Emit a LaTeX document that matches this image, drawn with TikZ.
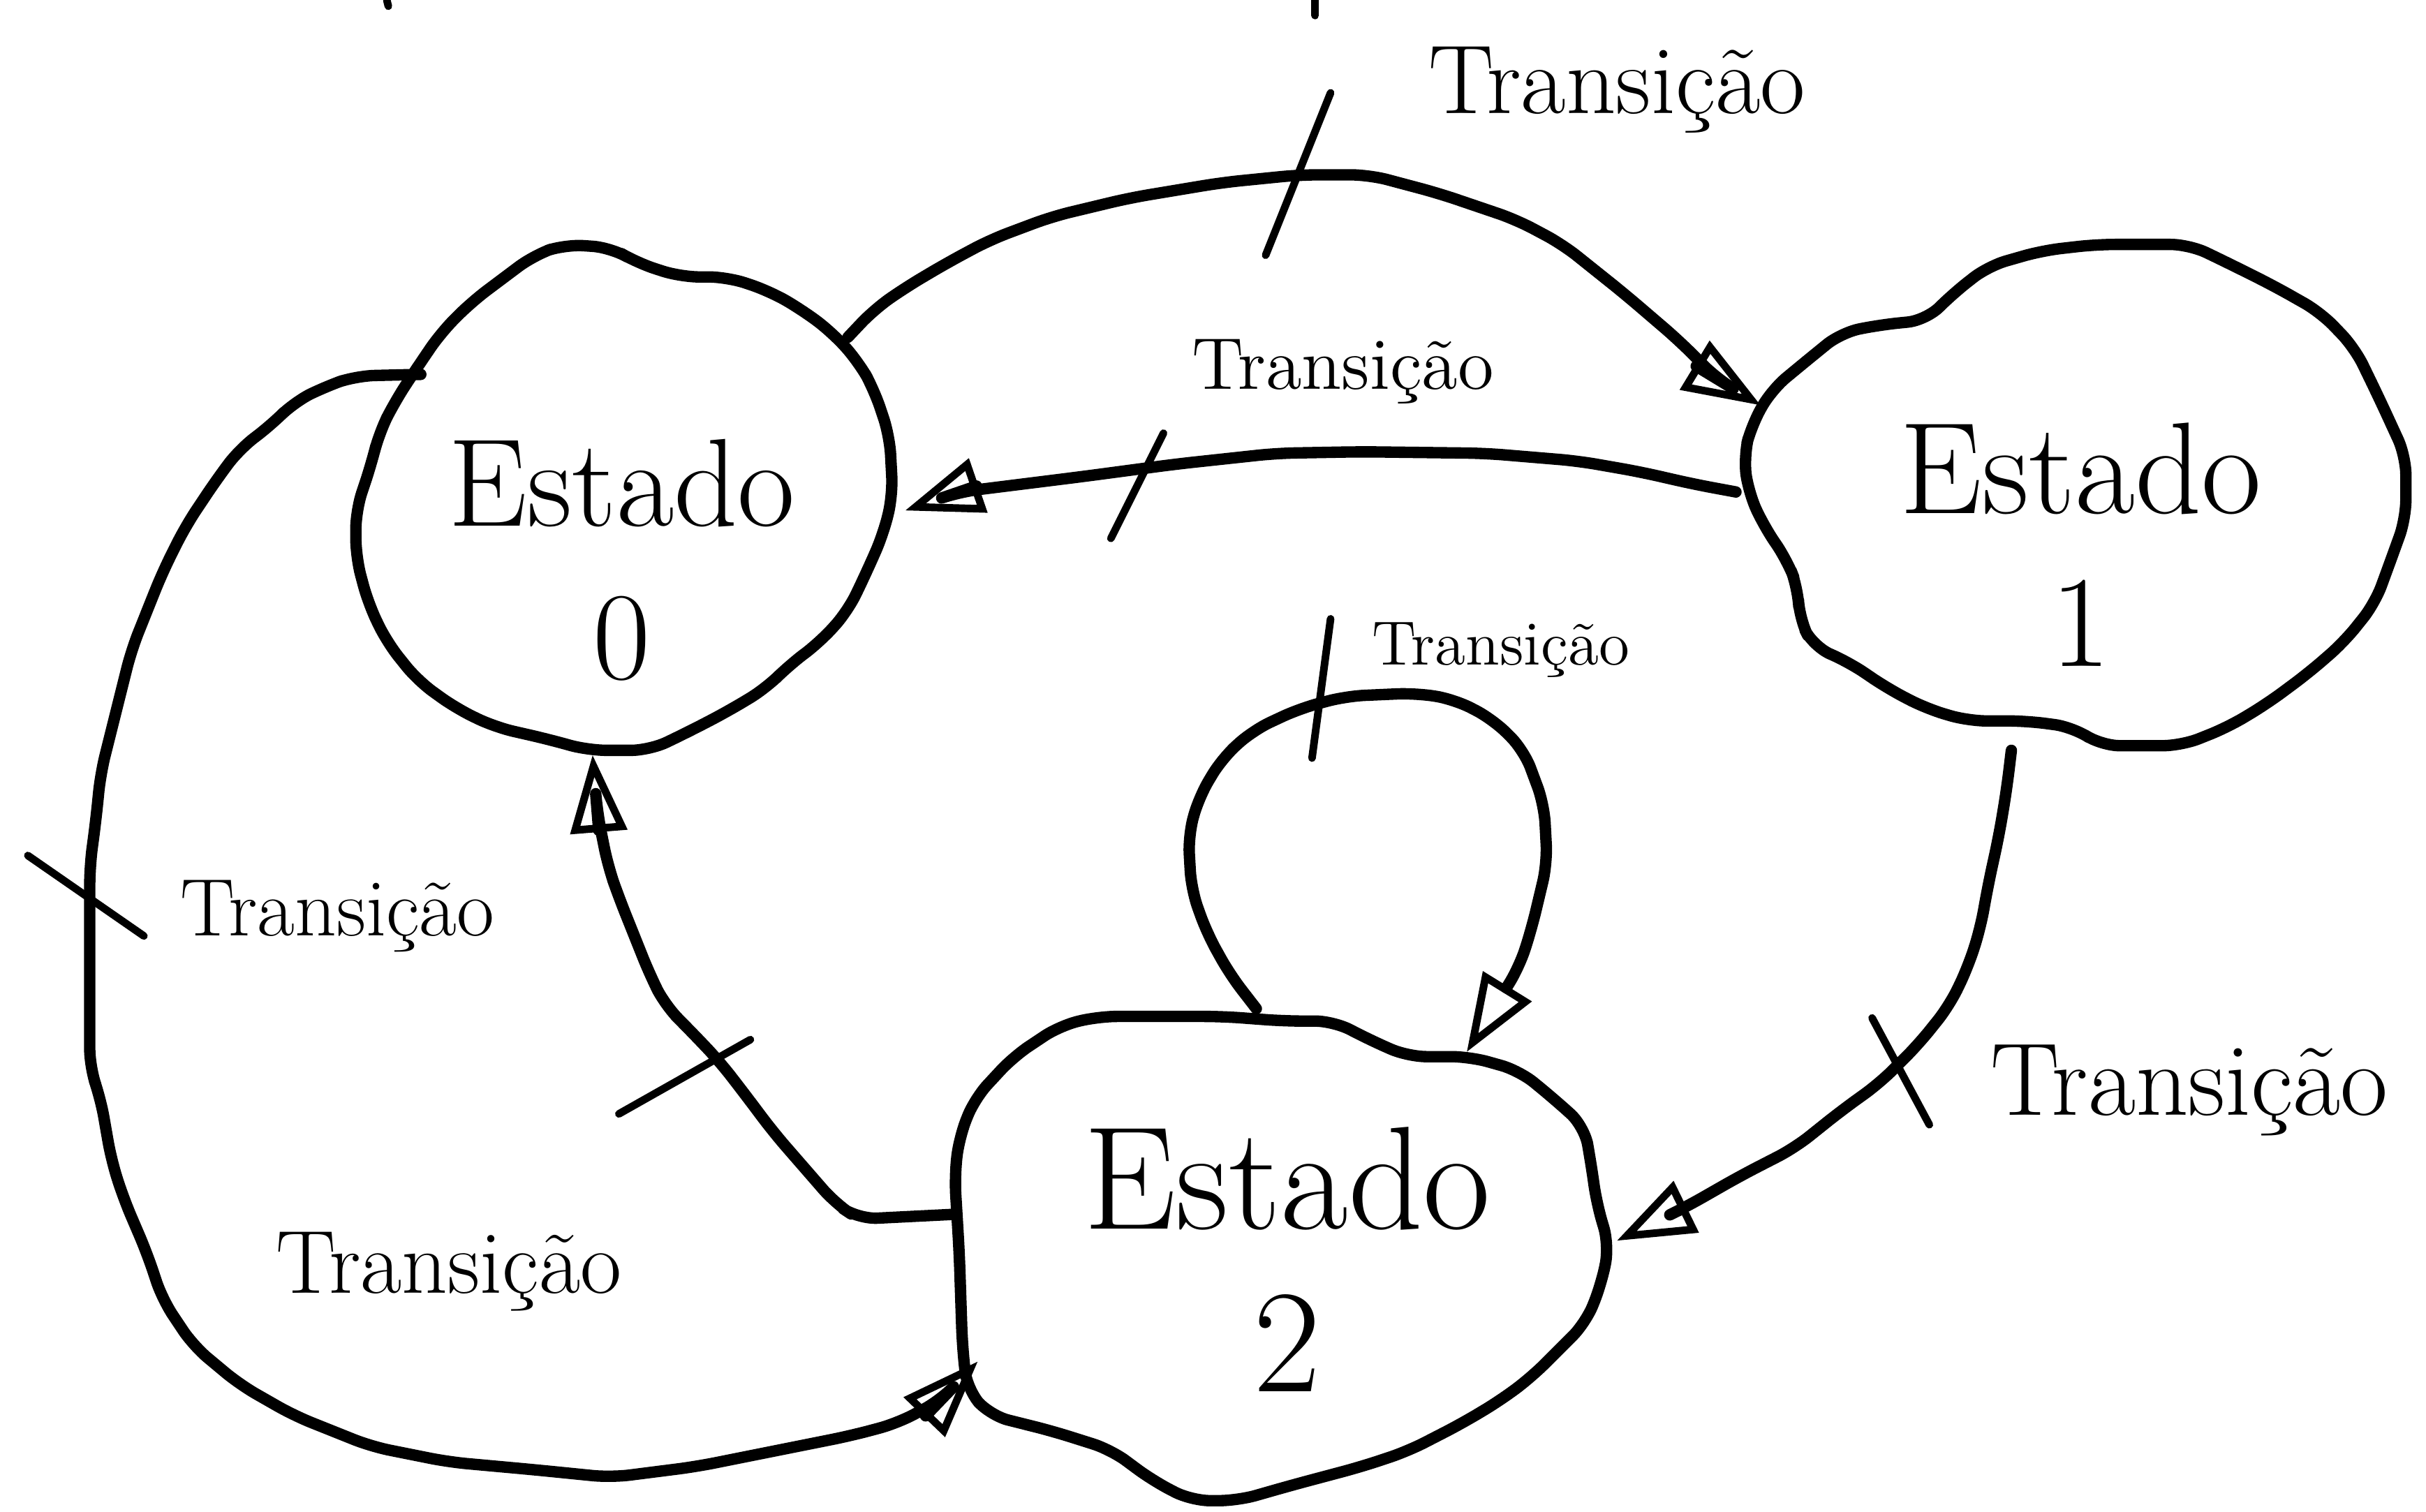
\documentclass[tikz,border=0pt]{standalone}
\usepackage{tikz}
\usetikzlibrary{arrows.meta}
\definecolor{ink}{RGB}{0,0,0}

\tikzset{
  blob/.style    = {draw=ink, line width=2.1pt, rounded corners=1.2mm, line join=round},
  trans/.style   = {draw=ink, line width=2.1pt, rounded corners=1.2mm, line cap=round, line join=round,
                    -{Triangle[open, length=5mm, width=3.6mm, line width=1.4pt]}},
  hatch/.style   = {draw=ink, line width=1.4pt, line cap=round},
  estado/.style  = {text=ink, align=center, inner sep=0pt},
  rotulo/.style  = {text=ink, inner sep=0pt}
}

\begin{document}
\begin{tikzpicture}[x=0.1mm, y=-0.1mm]
\useasboundingbox (0,0) rectangle (1568,977);

% estados
\draw[blob] (365,158) -- (395,160) -- (412,170) -- (440,179) -- (470,179) -- (497,188) -- (518,200) -- (538,215)
            -- (555,234) -- (565,252) -- (575,282) -- (577,320) -- (571,345) -- (560,370) -- (548,395) -- (530,415)
            -- (510,430) -- (495,445) -- (470,460) -- (445,473) -- (420,485) -- (380,485) -- (355,478) -- (320,470)
            -- (295,458) -- (270,440) -- (250,415) -- (238,390) -- (230,360) -- (230,330) -- (240,300) -- (245,280)
            -- (255,260) -- (268,240) -- (285,215) -- (305,195) -- (325,180) -- (345,165) -- cycle;
\draw[blob] (1355,158) -- (1415,158) -- (1440,170) -- (1470,185) -- (1500,202) -- (1522,225) -- (1538,258)
            -- (1555,295) -- (1555,335) -- (1546,360) -- (1535,390) -- (1515,415) -- (1492,435) -- (1465,455)
            -- (1440,470) -- (1410,482) -- (1358,482) -- (1340,470) -- (1310,466) -- (1272,466) -- (1245,458)
            -- (1220,445) -- (1195,428) -- (1172,418) -- (1163,400) -- (1162,380) -- (1155,362) -- (1140,340)
            -- (1130,318) -- (1127,295) -- (1132,275) -- (1145,252) -- (1163,237) -- (1190,215) -- (1215,210)
            -- (1245,207) -- (1262,190) -- (1285,172) -- (1320,162) -- cycle;
\draw[blob] (710,657) -- (790,657) -- (830,660) -- (862,660) -- (885,672) -- (910,683) -- (950,683) -- (982,692)
            -- (1004,710) -- (1024,728) -- (1028,750) -- (1032,778) -- (1040,805) -- (1035,830) -- (1025,855)
            -- (1008,872) -- (990,890) -- (970,905) -- (945,920) -- (910,938) -- (880,948) -- (835,960) -- (800,970)
            -- (770,970) -- (745,957) -- (718,937) -- (680,925) -- (640,915) -- (625,898) -- (622,870) -- (620,810)
            -- (617,760) -- (620,735) -- (630,710) -- (655,683) -- (685,663) -- cycle;

\node[estado, font=\fontsize{23}{28}\selectfont] (s0) at (402,362)  {Estado\\0};
\node[estado, font=\fontsize{24}{28}\selectfont] (s1) at (1345,352) {Estado\\1};
\node[estado, font=\fontsize{27}{30}\selectfont] (s2) at (832,814)  {Estado\\2};

% pontos de ligacao
\coordinate (a0) at (548,218);   \coordinate (a1) at (1138,262);
\coordinate (b1) at (1122,318);  \coordinate (b0) at (585,330);
\coordinate (c0) at (812,652);   \coordinate (c1) at (948,680);
\coordinate (d1) at (1300,485);  \coordinate (d2) at (1045,802);
\coordinate (e2) at (615,785);   \coordinate (e0) at (383,488);
\coordinate (f0) at (272,242);   \coordinate (f2) at (632,880);

% transicoes
\draw[trans] (a0) -- (565,200) -- (585,186) -- (612,170) -- (640,155) -- (680,140) -- (730,128) -- (790,118)
             -- (840,113) -- (885,113) -- (930,125) -- (980,142) -- (1010,158) -- (1050,190) -- (1085,220)
             -- (1110,245) -- (a1);
\draw[trans] (b1) -- (1095,313) -- (1060,305) -- (1020,298) -- (960,293) -- (880,292) -- (825,293) -- (760,300)
             -- (700,308) -- (660,313) -- (620,318) -- (b0);
\draw[trans] (c0) -- (795,630) -- (780,603) -- (770,575) -- (768,540) -- (775,515) -- (790,490) -- (810,472)
             -- (840,458) -- (870,450) -- (915,448) -- (940,452) -- (965,465) -- (985,485) -- (998,520)
             -- (1000,558) -- (990,600) -- (982,625) -- (c1);
\draw[trans] (d1) -- (1297,510) -- (1292,540) -- (1285,572) -- (1280,600) -- (1272,625) -- (1260,650) -- (1240,675)
             -- (1215,700) -- (1190,718) -- (1160,742) -- (1125,760) -- (1090,780) -- (d2);
\draw[trans] (e2) -- (555,788) -- (540,778) -- (520,755) -- (500,732) -- (482,708) -- (465,686) -- (445,665)
             -- (430,650) -- (420,630) -- (410,605) -- (400,580) -- (393,560) -- (386,525) -- (e0);
\draw[trans] (f0) -- (230,243) -- (210,250) -- (190,260) -- (175,275) -- (155,290) -- (140,310) -- (120,340)
             -- (105,370) -- (95,395) -- (85,420) -- (75,460) -- (65,500) -- (62,530) -- (58,560) -- (58,690)
             -- (65,710) -- (72,750) -- (80,775) -- (95,810) -- (105,840) -- (125,870) -- (155,895) -- (190,915)
             -- (240,935) -- (290,945) -- (345,950) -- (395,955) -- (450,948) -- (500,938) -- (550,928)
             -- (580,920) -- (608,905) -- (f2);

% marcas
\draw[hatch] (818,165)  -- (860,60);
\draw[hatch] (718,348)  -- (752,280);
\draw[hatch] (848,490)  -- (860,400);
\draw[hatch] (1210,658) -- (1247,727);
\draw[hatch] (400,720)  -- (485,672);
\draw[hatch] (18,553)   -- (93,605);
\draw[hatch] (850,0)    -- (850,10);
\draw[hatch] (250,0)    -- (251,4);

% rotulos
\node[rotulo, font=\fontsize{18}{20}\selectfont] (t1) at (1045,58)  {Transição};
\node[rotulo, font=\fontsize{13.5}{16}\selectfont] (t2) at (868,240) {Transição};
\node[rotulo, font=\fontsize{11.5}{14}\selectfont] (t3) at (970,420) {Transição};
\node[rotulo, font=\fontsize{19}{22}\selectfont] (t4) at (1415,705) {Transição};
\node[rotulo, font=\fontsize{15}{18}\selectfont] (t5) at (218,592)  {Transição};
\node[rotulo, font=\fontsize{16.5}{19}\selectfont] (t6) at (290,822) {Transição};
\end{tikzpicture}
\end{document}
